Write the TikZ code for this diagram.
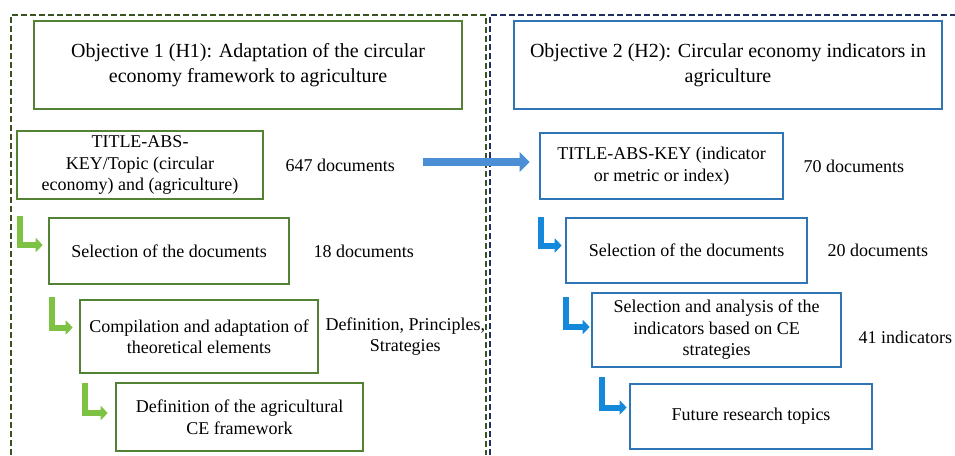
\documentclass[tikz,border=0pt]{standalone}
\usepackage{fontspec}
\setmainfont{Liberation Serif}
\usepackage{tikz}
\usetikzlibrary{
	positioning,
	arrows.meta
}
\definecolor{boxgreen}{HTML}{548235}
\definecolor{boxblue}{HTML}{2E75B6}
\definecolor{framegreen}{HTML}{3B5323}
\definecolor{frameblue}{HTML}{1F2F5F}
\definecolor{arrgreen}{HTML}{7DC243}
\definecolor{arrblue}{HTML}{1489DC}
\definecolor{bigblue}{HTML}{4A8FD6}
\tikzset{
	txt/.style={font=\fontsize{18}{21.5}\selectfont},
	head/.style={font=\fontsize{20}{25}\selectfont},
	gbox/.style={txt,draw=boxgreen,line width=2.6pt,align=center,inner sep=2pt},
	bbox/.style={txt,draw=boxblue,line width=2.6pt,align=center,inner sep=2pt},
	lbl/.style={txt,align=center,inner sep=0pt},
	gframe/.style={draw=framegreen,line width=1.8pt,dash pattern=on 6pt off 3pt},
	bframe/.style={draw=frameblue,line width=1.8pt,dash pattern=on 6pt off 3pt},
	garrow/.style={draw=arrgreen,line width=6pt,miter limit=10,-{Triangle[length=7pt,width=14pt]}},
	barrow/.style={draw=arrblue,line width=6pt,miter limit=10,-{Triangle[length=7pt,width=14pt]}},
	bigarrow/.style={draw=bigblue,line width=8pt,-{Triangle[length=10pt,width=19pt]}}
}
\begin{document}
\begin{tikzpicture}[x=1pt,y=-1pt]
		\useasboundingbox (0,0) rectangle (955,455);
		\draw[gframe] (11,455) -- (11,15) -- (486,15) -- (486,455);
		\draw[bframe] (490,455) -- (490,15) -- (955,15);

		\draw
			node[gbox,head,minimum width=428pt,minimum height=88pt] (o1) at (248,65) {Objective 1 (H1): Adaptation of the circular\\economy framework to agriculture}
			node[gbox,minimum width=246pt,minimum height=68pt] (tl) at (140,165) {TITLE-ABS-\\KEY/Topic (circular\\economy) and (agriculture)}
			node[gbox,minimum width=240pt,minimum height=66pt] (sl) at (169,251) {Selection of the documents}
			node[gbox,minimum width=238pt,minimum height=73pt] (cp) at (199,336.5) {Compilation and adaptation of\\theoretical elements}
			node[gbox,minimum width=247pt,minimum height=68pt] (df) at (239.5,417) {Definition of the agricultural\\CE framework}

			node[bbox,head,minimum width=428pt,minimum height=88pt] (o2) at (728,65) {Objective 2 (H2): Circular economy indicators in\\agriculture}
			node[bbox,minimum width=243pt,minimum height=66pt] (tr) at (661.5,166) {TITLE-ABS-KEY (indicator\\or metric or index)}
			node[bbox,minimum width=241pt,minimum height=65pt] (sr) at (686.5,250.5) {Selection of the documents}
			node[bbox,minimum width=249pt,minimum height=74pt] (sa) at (716.5,330) {Selection and analysis of the\\indicators based on CE\\strategies}
			node[bbox,minimum width=242pt,minimum height=65pt] (fu) at (751,416.5) {Future research topics}

			node[lbl,right=21pt of tl] (n647) {647 documents}
			node[lbl,right=23pt of sl] (n18) {18 documents}
			node[lbl,right=6pt of cp] (dps) {Definition, Principles,\\Strategies}
			node[lbl,right=19pt of tr] (n70) {70 documents}
			node[lbl,right=19pt of sr] (n20) {20 documents}
			node[lbl,right=16pt of sa,yshift=-7pt] (n41) {41 indicators}
		;

		\coordinate (ah) at ([yshift=3pt]n647.east);
		\draw[bigarrow] ([xshift=28pt]ah) -- ([xshift=-9pt]ah -| tr.west);

		\draw[garrow,shorten >=5pt] ([xshift=4pt,yshift=-16pt]tl.south west) |- ([yshift=6pt]sl.west);
		\draw[garrow,shorten >=6pt] ([xshift=4pt,yshift=-12pt]sl.south west) |- ([yshift=9pt]cp.west);
		\draw[garrow,shorten >=7pt] ([xshift=6pt,yshift=-9pt]cp.south west) |- ([yshift=4pt]df.west);

		\draw[barrow,shorten >=3pt] ([xshift=2pt,yshift=-17pt]tr.south west) |- ([yshift=5pt]sr.west);
		\draw[barrow,shorten >=1pt] ([xshift=1pt,yshift=-13pt]sr.south west) |- ([yshift=3pt]sa.west);
		\draw[barrow,shorten >=2pt] ([xshift=11pt,yshift=-9pt]sa.south west) |- ([yshift=9pt]fu.west);
	\end{tikzpicture}
\end{document}
